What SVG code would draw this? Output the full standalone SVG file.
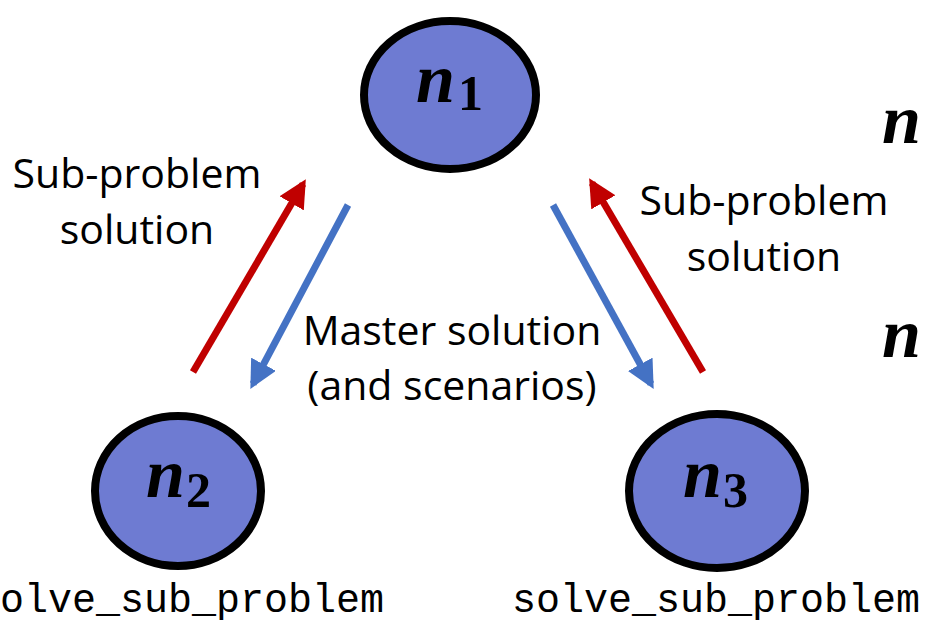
<svg xmlns="http://www.w3.org/2000/svg" width="926" height="630" viewBox="0 0 926 630">
<style>
.node{fill:#6E7BD2;stroke:#000;stroke-width:8}
.math{font-family:"Liberation Serif",serif;font-style:italic;font-weight:bold;fill:#000}
.sub{font-family:"Liberation Serif",serif;font-weight:bold;fill:#000}
.lbl{font-family:"Open Sans","Liberation Sans",sans-serif;font-size:41px;fill:#000}
.tt{font-family:"Liberation Mono",monospace;font-size:40px;fill:#000}
.red{stroke:#C00000;stroke-width:7;fill:none}
.blue{stroke:#4472C4;stroke-width:7;fill:none}
</style>
<defs>
<marker id="ar" viewBox="0 0 10 10" refX="8" refY="5" markerWidth="4" markerHeight="4" markerUnits="strokeWidth" orient="auto"><path d="M0,0 L10,5 L0,10 z" fill="#C00000"/></marker>
<marker id="ab" viewBox="0 0 10 10" refX="8" refY="5" markerWidth="4" markerHeight="4" markerUnits="strokeWidth" orient="auto"><path d="M0,0 L10,5 L0,10 z" fill="#4472C4"/></marker>
</defs>
<g id="n1"><ellipse class="node" cx="450" cy="95" rx="86" ry="74"/><text class="math" x="416" y="102" font-size="70">n</text><text class="sub" x="458" y="110" font-size="50">1</text></g>
<g id="n2"><ellipse class="node" cx="178" cy="491" rx="83" ry="75"/><text class="math" x="146" y="497" font-size="70">n</text><text class="sub" x="186" y="507" font-size="50">2</text></g>
<g id="n3"><ellipse class="node" cx="717" cy="491" rx="88" ry="77"/><text class="math" x="683" y="497" font-size="70">n</text><text class="sub" x="723" y="507" font-size="50">3</text></g>
<g id="edges">
<line class="red" x1="193" y1="372" x2="303" y2="184" marker-end="url(#ar)"/>
<line class="blue" x1="348" y1="205" x2="253" y2="384" marker-end="url(#ab)"/>
<line class="blue" x1="553" y1="205" x2="651" y2="384" marker-end="url(#ab)"/>
<line class="red" x1="703" y1="372" x2="592" y2="183" marker-end="url(#ar)"/>
</g>
<g id="labels">
<text class="lbl" x="137" y="188" text-anchor="middle">Sub-problem</text>
<text class="lbl" x="137" y="244" text-anchor="middle">solution</text>
<text class="lbl" x="764" y="215" text-anchor="middle">Sub-problem</text>
<text class="lbl" x="764" y="271" text-anchor="middle">solution</text>
<text class="lbl" x="452" y="345" text-anchor="middle">Master solution</text>
<text class="lbl" x="452" y="400" text-anchor="middle">(and scenarios)</text>
<text class="tt" x="0" y="612">olve_sub_problem</text>
<text class="tt" x="512" y="612">solve_sub_problem</text>
<text class="math" x="882" y="143" font-size="70">n</text>
<text class="math" x="882" y="357" font-size="70">n</text>
</g>
</svg>
